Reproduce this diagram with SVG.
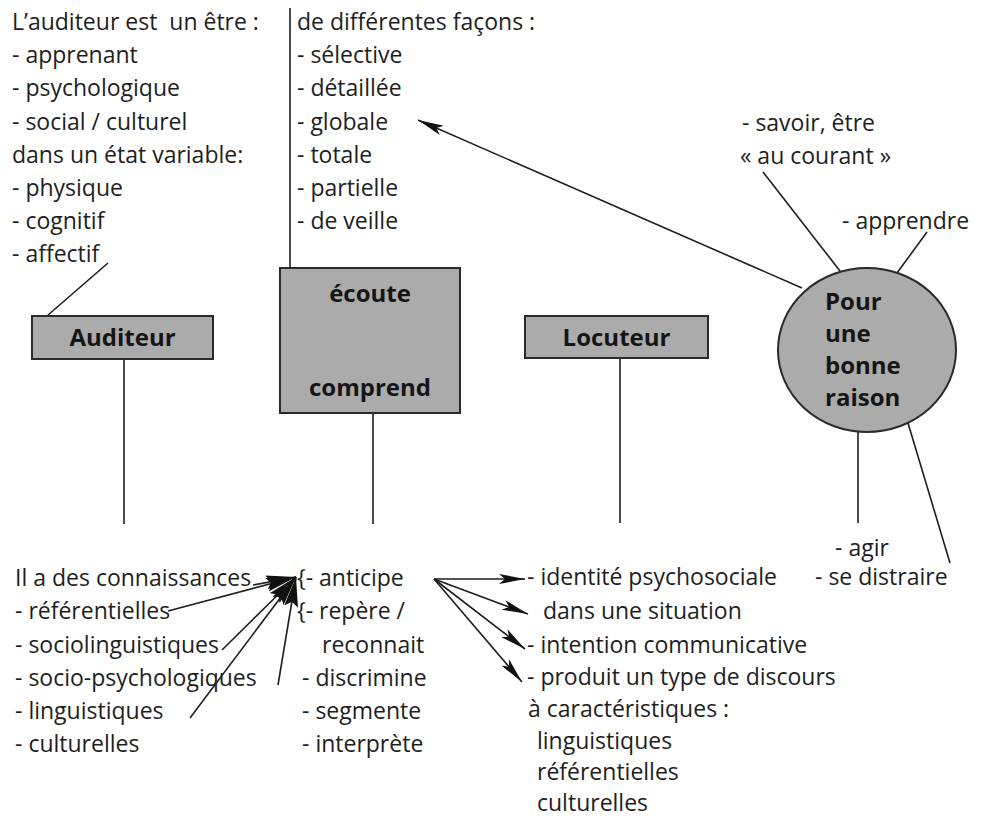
<svg xmlns="http://www.w3.org/2000/svg" width="982" height="820" viewBox="0 0 982 820">
<defs>
<style>
.t{font-family:"Open Sans","Noto Sans","Liberation Sans",sans-serif;font-size:23px;fill:#1e1e1e;white-space:pre}
.b{font-family:"Open Sans","Noto Sans","Liberation Sans",sans-serif;font-size:24px;font-weight:bold;fill:#151515}
.c{text-anchor:middle}
.ln{stroke:#1e1e1e;stroke-width:1.6;fill:none}
.box{fill:#ababab;stroke:#2a2a2a;stroke-width:2}
</style>
<marker id="ah" markerWidth="26" markerHeight="10" refX="26" refY="5" orient="auto" markerUnits="userSpaceOnUse">
<path d="M0,0 L26,5 L0,10 L6,5 Z" fill="#111"/>
</marker>
<marker id="ahb" markerWidth="30" markerHeight="14" refX="30" refY="7" orient="auto" markerUnits="userSpaceOnUse">
<path d="M0,0 L30,7 L0,14 L5,7 Z" fill="#111"/>
</marker>
</defs>
<rect width="982" height="820" fill="#ffffff"/>

<g id="connectors">
<line class="ln" x1="290" y1="8" x2="290" y2="268"/>
<line class="ln" x1="48" y1="315" x2="108" y2="263"/>
<line class="ln" x1="124" y1="359" x2="124" y2="524"/>
<line class="ln" x1="373" y1="413" x2="373" y2="524"/>
<line class="ln" x1="620" y1="358" x2="620" y2="523"/>
<line class="ln" x1="858" y1="432" x2="858" y2="523"/>
<line class="ln" x1="908" y1="423" x2="950" y2="563"/>
<line class="ln" x1="763" y1="172" x2="840" y2="271"/>
<line class="ln" x1="927" y1="232" x2="897" y2="273"/>
<line class="ln" x1="802" y1="288" x2="418" y2="120" marker-end="url(#ah)"/>
<line class="ln" x1="253" y1="585" x2="296" y2="577" marker-end="url(#ahb)"/>
<line class="ln" x1="168" y1="611" x2="296" y2="577" marker-end="url(#ahb)"/>
<line class="ln" x1="222" y1="650" x2="296" y2="577" marker-end="url(#ahb)"/>
<line class="ln" x1="278" y1="685" x2="296" y2="577" marker-end="url(#ahb)"/>
<line class="ln" x1="190" y1="718" x2="296" y2="577" marker-end="url(#ahb)"/>
<line class="ln" x1="434" y1="579" x2="525" y2="579" marker-end="url(#ah)"/>
<line class="ln" x1="434" y1="579" x2="528" y2="614" marker-end="url(#ah)"/>
<line class="ln" x1="434" y1="579" x2="525" y2="649" marker-end="url(#ah)"/>
<line class="ln" x1="434" y1="579" x2="522" y2="682" marker-end="url(#ah)"/>
</g>

<g id="auditeur-traits">
<text class="t" x="12" y="30">L’auditeur est  un être :</text>
<text class="t" x="12" y="63">- apprenant</text>
<text class="t" x="12" y="96">- psychologique</text>
<text class="t" x="12" y="130">- social / culturel</text>
<text class="t" x="12" y="163">dans un état variable:</text>
<text class="t" x="12" y="196">- physique</text>
<text class="t" x="12" y="229">- cognitif</text>
<text class="t" x="12" y="262">- affectif</text>
</g>

<g id="facons">
<text class="t" x="297" y="30">de différentes façons :</text>
<text class="t" x="297" y="63">- sélective</text>
<text class="t" x="297" y="96">- détaillée</text>
<text class="t" x="297" y="130">- globale</text>
<text class="t" x="297" y="163">- totale</text>
<text class="t" x="297" y="196">- partielle</text>
<text class="t" x="297" y="229">- de veille</text>
</g>

<g id="raisons-haut">
<text class="t" x="742" y="131">- savoir, être</text>
<text class="t" x="740" y="164">« au courant »</text>
<text class="t" x="842" y="229">- apprendre</text>
</g>

<g id="auditeur">
<rect class="box" x="32" y="316" width="181" height="43"/>
<text class="b c" x="122.5" y="346">Auditeur</text>
</g>

<g id="ecoute">
<rect class="box" x="280" y="268" width="180" height="145"/>
<text class="b c" x="370" y="302">écoute</text>
<text class="b c" x="370" y="396">comprend</text>
</g>

<g id="locuteur">
<rect class="box" x="525" y="316" width="183" height="42"/>
<text class="b c" x="616.5" y="346">Locuteur</text>
</g>

<g id="bonne-raison">
<ellipse class="box" cx="867" cy="350" rx="89" ry="82"/>
<text class="b" x="825" y="310">Pour</text>
<text class="b" x="825" y="342">une</text>
<text class="b" x="825" y="374">bonne</text>
<text class="b" x="825" y="406">raison</text>
</g>

<g id="raisons-bas">
<text class="t" x="835" y="556">- agir</text>
<text class="t" x="815" y="585">- se distraire</text>
</g>

<g id="connaissances">
<text class="t" x="15" y="586">Il a des connaissances</text>
<text class="t" x="15" y="619">- référentielles</text>
<text class="t" x="15" y="653">- sociolinguistiques</text>
<text class="t" x="15" y="686">- socio-psychologiques</text>
<text class="t" x="15" y="719">- linguistiques</text>
<text class="t" x="15" y="752">- culturelles</text>
</g>

<g id="operations">
<text class="t" x="297" y="586">{- anticipe</text>
<text class="t" x="297" y="619">{- repère /</text>
<text class="t" x="322" y="653">reconnait</text>
<text class="t" x="302" y="686">- discrimine</text>
<text class="t" x="302" y="719">- segmente</text>
<text class="t" x="302" y="752">- interprète</text>
</g>

<g id="locuteur-traits">
<text class="t" x="527" y="585">- identité psychosociale</text>
<text class="t" x="543" y="619">dans une situation</text>
<text class="t" x="527" y="653">- intention communicative</text>
<text class="t" x="527" y="685">- produit un type de discours</text>
<text class="t" x="528" y="717">à caractéristiques :</text>
<text class="t" x="537" y="749">linguistiques</text>
<text class="t" x="537" y="780">référentielles</text>
<text class="t" x="537" y="811">culturelles</text>
</g>
</svg>
